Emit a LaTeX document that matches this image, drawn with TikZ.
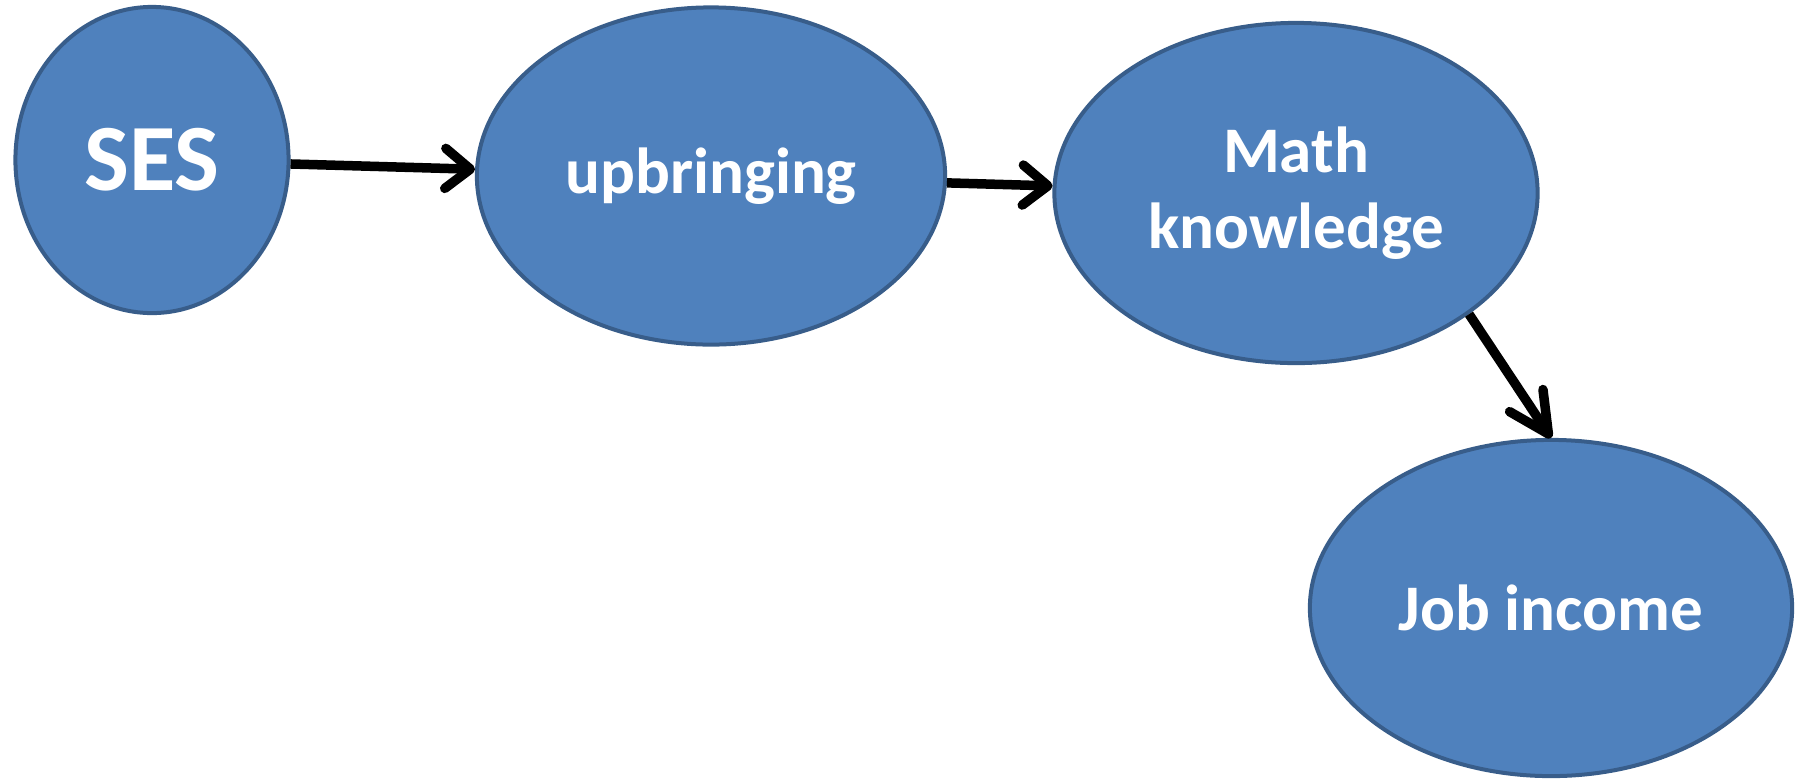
\documentclass[tikz,border=0pt]{standalone}
\usepackage{fontspec}
\setmainfont{Carlito}
\usetikzlibrary{shapes.geometric,arrows.meta}
\definecolor{fillblue}{HTML}{4F81BD}
\definecolor{bordblue}{HTML}{385D8A}
\begin{document}
\begin{tikzpicture}[x=0.01cm,y=-0.01cm,
  main node/.style={ellipse,draw=bordblue,fill=fillblue,line width=0.04cm,text=white,inner sep=0pt,align=center,
    font=\bfseries\fontsize{18.5}{21.6}\selectfont},
  link/.style={-{Straight Barb[length=0.25cm,width=0.4cm,round]},line width=0.095cm}]
  \useasboundingbox (0,0) rectangle (1803,778);

  \node[main node,minimum width=2.73cm,minimum height=3.06cm,font=\bfseries\fontsize{27}{30}\selectfont] (ses) at (152,160) {SES};
  \node[main node,minimum width=4.68cm,minimum height=3.37cm] (up) at (711,176) {upbringing};
  \node[main node,minimum width=4.83cm,minimum height=3.40cm] (math) at (1296,193) {Math\\knowledge};
  \node[main node,minimum width=4.82cm,minimum height=3.36cm] (job) at (1551,608) {Job income};

  \path[link]
    (ses) edge (up)
    (up) edge (math)
    (math.-35) edge[-{Straight Barb[length=0.4cm,width=0.4cm,round]}] (job.north);
\end{tikzpicture}
\end{document}
